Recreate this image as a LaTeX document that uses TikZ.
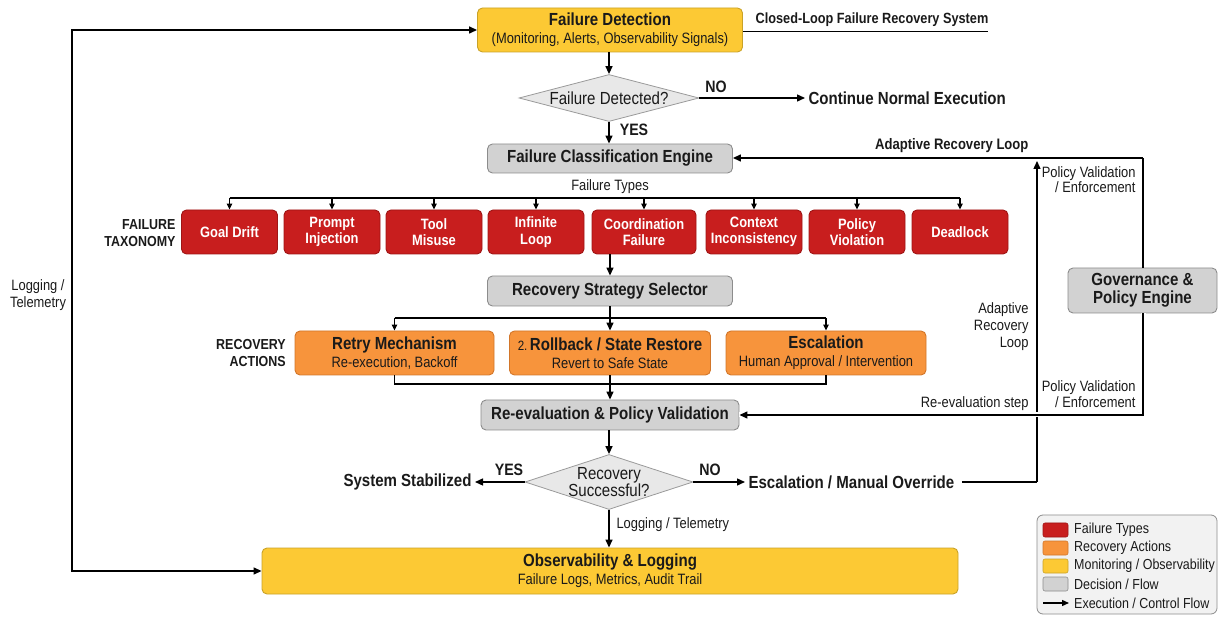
\documentclass[tikz,border=0pt]{standalone}
\usepackage{fontspec}
\setmainfont{Liberation Sans}[FakeStretch=0.86]
\usetikzlibrary{shapes.geometric,arrows.meta}
\newcommand\myfs[2]{\fontsize{#1}{#2}\selectfont}
\definecolor{cY}{HTML}{FCC934}
\definecolor{cYd}{HTML}{C9A227}
\definecolor{cR}{HTML}{C81E1E}
\definecolor{cRd}{HTML}{9E1515}
\definecolor{cO}{HTML}{F7943C}
\definecolor{cOd}{HTML}{D2762A}
\definecolor{cG}{HTML}{D2D2D2}
\definecolor{cGd}{HTML}{8C8C8C}
\definecolor{cD}{HTML}{E8E8E8}
\definecolor{cDd}{HTML}{9A9A9A}
\definecolor{txt}{HTML}{1A1A1A}
\begin{document}
\begin{tikzpicture}[x=1pt,y=-1pt,
  base/.style={rounded corners=5pt, line width=0.9pt, align=center, inner sep=1pt, text=txt},
  ybox/.style={base, fill=cY, draw=cYd, font=\myfs{15}{18}},
  gbox/.style={base, fill=cG, draw=cGd, font=\bfseries\myfs{17.5}{20}},
  rbox/.style={base, fill=cR, draw=cRd, text=white, font=\bfseries\myfs{15}{16.5}, minimum width=96pt, minimum height=44pt},
  obox/.style={base, fill=cO, draw=cOd, minimum height=44pt, font=\myfs{15}{18}},
  dia/.style={diamond, draw=cDd, fill=cD, line width=0.8pt, inner sep=0pt},
  diatxt/.style={font=\myfs{17.5}{17}, align=center, text=txt, inner sep=0pt},
  arr/.style={line width=1.4pt, -{Triangle[length=8pt,width=7pt]}},
  sarr/.style={line width=1.1pt, -{Triangle[length=6pt,width=5.5pt]}},
  ln/.style={line width=1.4pt},
  sln/.style={line width=1.1pt},
  lbl/.style={font=\myfs{15}{15.5}, align=center, text=txt},
  blbl/.style={font=\bfseries\myfs{16.5}{18}, text=txt},
  big/.style={font=\bfseries\myfs{17.5}{20}, text=txt},
  tag/.style={font=\bfseries\myfs{14.5}{17}, align=right, text=txt},
  ttl/.style={font=\bfseries\myfs{17.5}{18}},
  swatch/.style={rounded corners=2pt, line width=0.6pt, minimum width=25pt, minimum height=14pt, inner sep=0pt},
  leg/.style={font=\myfs{14.5}{16}, anchor=west, text=txt, inner sep=0pt},
]
\useasboundingbox (0,0) rectangle (1219,617);

% top
\node[ybox, minimum width=265pt, minimum height=44pt] (fd) at (610,30)
  {{\bfseries\myfs{17.5}{18}Failure Detection}\\{(Monitoring, Alerts, Observability Signals)}};
\node[font=\bfseries\myfs{14.8}{16}, text=txt] (title) at (872,20) {Closed-Loop Failure Recovery System};
\draw[line width=0.9pt] (fd.east |- 0,31) -- (988,31);

\node[dia, aspect=3.83, minimum width=180pt, minimum height=47pt] (d1) at (609,98) {};
\node[diatxt] (d1t) at (609,98) {Failure Detected?};
\node[big, anchor=west] (cont) at (805,98) {Continue Normal Execution};
\node[blbl] (no1) at (716,87) {NO};
\node[blbl] (yes1) at (634,130) {YES};
\draw[arr] (fd.south -| d1.north) -- (d1.north);
\draw[arr] (d1.east) -- (cont.west);

\node[gbox, minimum width=245pt, minimum height=29pt] (fce) at (610,158.5) {Failure Classification Engine};
\draw[arr] (d1.south) -- (d1.south |- fce.north);

% failure types
\node[lbl] (ftl) at (610,187) {Failure Types};
\node[tag] (ftax) at (140,233) {FAILURE\\TAXONOMY};
\node[rbox] (r1) at (229.5,232) {Goal Drift};
\node[rbox] (r2) at (332,232) {Prompt\\Injection};
\node[rbox] (r3) at (434,232) {Tool\\Misuse};
\node[rbox] (r4) at (536,232) {Infinite\\Loop};
\node[rbox, minimum width=104pt] (r5) at (644,232) {Coordination\\Failure};
\node[rbox] (r6) at (754,232) {Context\\Inconsistency};
\node[rbox] (r7) at (857,232) {Policy\\Violation};
\node[rbox] (r8) at (960,232) {Deadlock};
\draw[sln] (r1.north |- 0,198) -- (r8.north |- 0,198);
\foreach \r in {r1,r2,r3,r4,r5,r6,r7,r8} \draw[sarr] (\r.north |- 0,198) -- (\r.north);

\node[gbox, minimum width=245pt, minimum height=30pt] (rss) at (610,291) {Recovery Strategy Selector};
\draw[arr] (r5.south -| rss.north) -- (rss.north);

% recovery actions
\node[tag] (ract) at (251,353) {RECOVERY\\ACTIONS};
\node[obox, minimum width=199pt] (o1) at (394.5,353)
  {{\bfseries\myfs{17.5}{18}Retry Mechanism}\\Re-execution, Backoff};
\node[obox, minimum width=201pt] (o2) at (610,353)
  {{\myfs{13.5}{18}2.}\,{\bfseries\myfs{17.5}{18}Rollback / State Restore}\\Revert to Safe State};
\node[obox, minimum width=200pt] (o3) at (826,353)
  {{\bfseries\myfs{17.5}{18}Escalation}\\Human Approval / Intervention};
\draw[sln] (o1.north |- 0,318) -- (o3.north |- 0,318);
\draw[sln] (rss.south) -- (rss.south |- 0,318);
\draw[sarr] (o1.north |- 0,318) -- (o1.north);
\draw[arr] (rss.south |- 0,318) -- (o2.north);
\draw[sarr] (o3.north |- 0,318) -- (o3.north);

\node[gbox, minimum width=258pt, minimum height=30pt] (rev) at (610,415) {Re-evaluation \& Policy Validation};
\draw[sln] (o1.south) -- (o1.south |- 0,384) -- (o3.south |- 0,384) -- (o3.south);
\draw[arr] (o2.south) -- (o2.south |- rev.north);

% second decision
\node[dia, aspect=3.05, minimum width=168pt, minimum height=55pt] (d2) at (609,482) {};
\node[diatxt] (d2t) at (609,482) {Recovery\\Successful?};
\draw[arr] (rev.south -| d2.north) -- (d2.north);
\node[big, anchor=east] (stab) at (475,482) {System Stabilized};
\node[big, anchor=west] (esc) at (745,482) {Escalation / Manual Override};
\node[blbl] (yes2) at (509,470) {YES};
\node[blbl] (no2) at (710,470) {NO};
\draw[arr] (d2.west) -- (stab.east);
\draw[arr] (d2.east) -- (esc.west);

\node[ybox, minimum width=696pt, minimum height=46pt] (obs) at (610,571)
  {{\bfseries\myfs{17.5}{18}Observability \& Logging}\\Failure Logs, Metrics, Audit Trail};
\node[lbl, anchor=west] (lt2) at (613,525) {Logging / Telemetry};
\draw[arr] (d2.south) -- (d2.south |- obs.north);

% left loop
\coordinate (lb) at (72,571);
\coordinate (lt) at (72,30);
\draw[line width=1.4pt, {Triangle[length=8pt,width=7pt]}-{Triangle[length=8pt,width=7pt]}] (obs.west) -- (lb) -- (lt) -- (fd.west);
\node[lbl, font=\myfs{15}{17}] (lt1) at (38,295) {Logging /\\Telemetry};

% right side
\node[gbox, minimum width=149pt, minimum height=45pt, font=\bfseries\myfs{17.5}{18}] (gov) at (1142.5,290.5) {Governance \&\\Policy Engine};
\coordinate (rA) at (1037,482);
\coordinate (rB) at (1037,161);
\coordinate (rC) at (1143,158);
\coordinate (rD) at (1143,415);
\draw[ln] (esc.east) ++(4,0) -- (rA);
\draw[arr] (rA) -- (rB);
\draw[arr] (rC) -- (fce.east |- rC);
\draw[ln] (rC) -- (gov.north -| rC);
\draw[arr, preaction={draw=white, line width=5pt, -}] (gov.south -| rD) -- (rD) -- (rev.east |- rD);
\draw[ln] (gov.south -| rD) -- (rD);
\node[font=\bfseries\myfs{15.2}{16}, text=txt, anchor=east] (arl1) at (1032,146) {Adaptive Recovery Loop};
\node[lbl, align=right, anchor=north east] (pv1) at (1139,163) {Policy Validation\\/ Enforcement};
\node[lbl, font=\myfs{15}{17}, align=right, anchor=east] (arl2) at (1032,327) {Adaptive\\Recovery\\Loop};
\node[lbl, anchor=east] (res) at (1032,404) {Re-evaluation step};
\node[lbl, align=right, anchor=south east] (pv2) at (1139,411) {Policy Validation\\/ Enforcement};

% legend
\draw[rounded corners=6pt, draw=cGd, line width=0.8pt, fill=black!5] (1037,515) rectangle (1217,614);
\node[swatch, fill=cR, draw=cRd] (s1) at (1055.5,530) {};
\node[swatch, fill=cO, draw=cOd] (s2) at (1055.5,548) {};
\node[swatch, fill=cY, draw=cYd] (s3) at (1055.5,566) {};
\node[swatch, fill=cG, draw=cGd] (s4) at (1055.5,584) {};
\coordinate (s5a) at (1043,603);
\coordinate (s5b) at (1069,603);
\draw[line width=1.3pt, -{Triangle[length=7pt,width=6pt]}] (s5a) -- (s5b);
\node[leg] (l1) at (1074,530) {Failure Types};
\node[leg] (l2) at (1074,548) {Recovery Actions};
\node[leg] (l3) at (1074,566) {Monitoring / Observability};
\node[leg] (l4) at (1074,584) {Decision / Flow};
\node[leg] (l5) at (1074,603) {Execution / Control Flow};
\end{tikzpicture}
\end{document}
